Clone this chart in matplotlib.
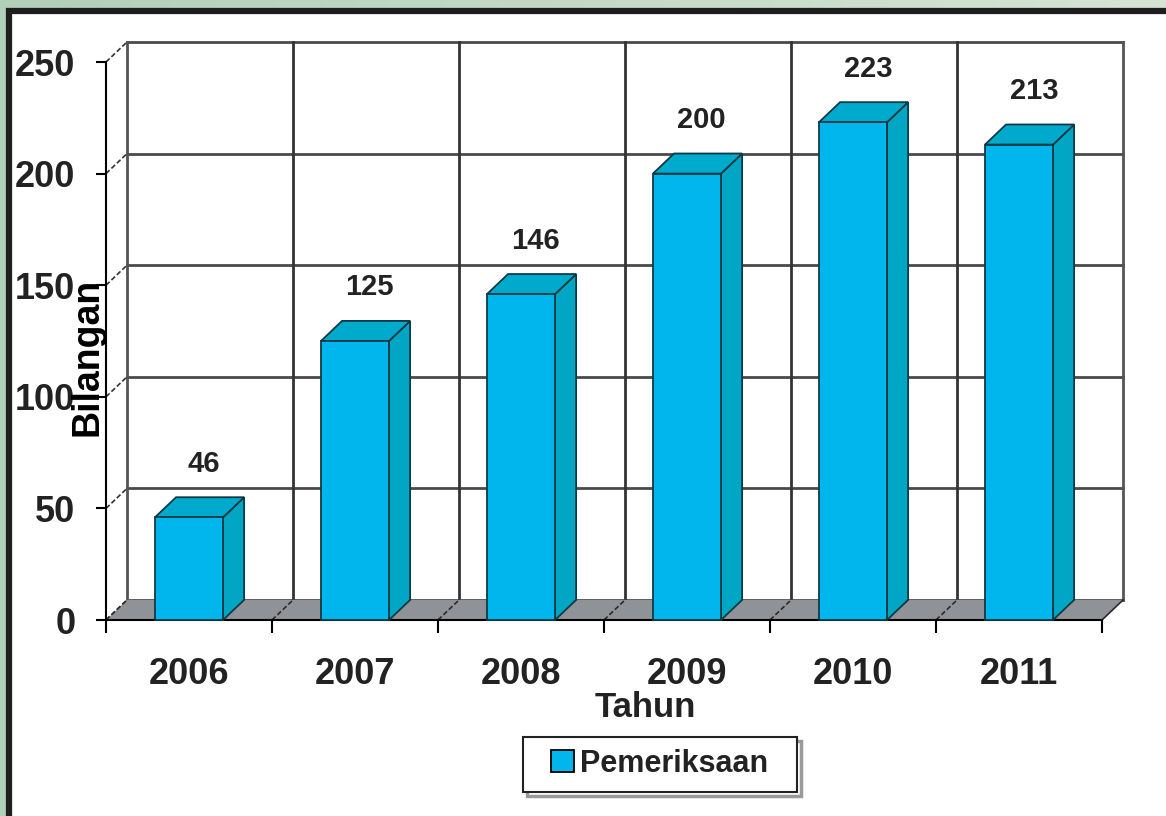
import matplotlib
matplotlib.use("Agg")
import matplotlib.pyplot as plt
import numpy as np
from matplotlib.patches import Polygon, Rectangle
from matplotlib.colors import LinearSegmentedColormap

plt.rcParams['font.family'] = ['Liberation Sans', 'DejaVu Sans']
plt.rcParams['font.weight'] = 'bold'

tahun = ['2006', '2007', '2008', '2009', '2010', '2011']
pemeriksaan = [46, 125, 146, 200, 223, 213]
y_ticks = [0, 50, 100, 150, 200, 250]

front_col = '#00b6ec'
side_col = '#00a6c4'
top_col = '#00aacd'
edge_col = '#0d3a44'
floor_col = '#8f9297'
grid_col = '#4a4a4a'

# depth of the pseudo 3d box (x in category units, y in data units)
dx = 0.127
dy = 9.0
bar_w = 0.41

fig = plt.figure(figsize=(11.66, 8.16), dpi=100)

# greenish background with a framed white panel
bg = fig.add_axes([0, 0, 1, 1], zorder=-10)
grad = np.linspace(0, 1, 256).reshape(1, -1)
cmap = LinearSegmentedColormap.from_list('bg', ['#b2cfb9', '#d6e4d4'])
bg.imshow(grad, aspect='auto', cmap=cmap, extent=[0, 1, 0, 1])
bg.set_axis_off()
fig.patches.append(Rectangle((9 / 1166, -0.05), 1.1, 1.05 - 10.5 / 816,
                             transform=fig.transFigure, facecolor='white',
                             edgecolor='#1e1e1e', linewidth=4.5, zorder=-5))

ax = fig.add_axes([106 / 1166, 196 / 816, 996 / 1166, 558 / 816])
ax.set_xlim(0, 6)
ax.set_ylim(0, 250)
ax.patch.set_visible(False)
for s in ['top', 'right']:
    ax.spines[s].set_visible(False)
ax.spines['left'].set_linewidth(1.5)
ax.spines['bottom'].set_linewidth(1.5)

n = len(tahun)
# back wall grid
for v in y_ticks:
    ax.plot([dx, n + dx], [v + dy, v + dy], color=grid_col, lw=2, clip_on=False, zorder=1)
    ax.plot([0, dx], [v, v + dy], color='#333333', lw=1.2, ls=(0, (3, 1.5)), clip_on=False, zorder=1)
for i in range(n + 1):
    ax.plot([i + dx, i + dx], [dy, 250 + dy], color='#333333' if 0 < i < n else '#555555',
            lw=2, clip_on=False, zorder=1)

# floor
ax.add_patch(Polygon([(0, 0), (n, 0), (n + dx, dy), (dx, dy)], closed=True,
                     facecolor=floor_col, edgecolor='none', clip_on=False, zorder=2))
for i in range(n + 1):
    ax.plot([i, i + dx], [0, dy], color='#2a2a2a', lw=1.2,
            ls='-' if i == n else (0, (3, 1.5)), clip_on=False, zorder=2)

# bars: front faces via ax.bar, then side and top faces
xc = np.arange(n) + 0.5
ax.bar(xc, pemeriksaan, width=bar_w, color=front_col, edgecolor=edge_col,
       linewidth=1.3, label='Pemeriksaan', zorder=4, clip_on=False)
for x, v in zip(xc, pemeriksaan):
    x0, x1 = x - bar_w / 2, x + bar_w / 2
    ax.add_patch(Polygon([(x1, 0), (x1 + dx, dy), (x1 + dx, v + dy), (x1, v)],
                         facecolor=side_col, edgecolor=edge_col, lw=1.3, zorder=3, clip_on=False))
    ax.add_patch(Polygon([(x0, v), (x1, v), (x1 + dx, v + dy), (x0 + dx, v + dy)],
                         facecolor=top_col, edgecolor=edge_col, lw=1.3, zorder=3, clip_on=False))
    ax.text(x + dx * 0.7, v + 24, str(v), ha='center', va='center',
            fontsize=21, fontweight='bold', color='#222222', zorder=6)

ax.set_yticks(y_ticks)
ax.set_yticklabels([str(v) for v in y_ticks])
ax.tick_params(axis='y', length=7, width=1.5, pad=15, labelsize=26, labelcolor='#222222')
for lab in ax.get_yticklabels():
    lab.set_verticalalignment('center_baseline')
ax.set_xticks(range(n + 1))
ax.set_xticklabels([])
ax.set_xticks(xc, minor=True)
ax.set_xticklabels(tahun, minor=True)
ax.tick_params(axis='x', which='major', length=9, width=1.5, direction='out')
ax.tick_params(axis='x', which='minor', length=0, pad=27, labelsize=26, labelcolor='#222222')

ax.set_ylabel('Bilangan', fontsize=27, fontweight='bold', color='black')
ax.yaxis.set_label_coords(0.0, 0.472)
ax.set_xlabel('Tahun', fontsize=25, fontweight='bold', color='#222222')
ax.xaxis.set_label_coords(0.541, -0.128)

# legend with a hand-drawn frame and offset shadow
leg = ax.legend(loc='center', bbox_to_anchor=(0.556, -0.258), fontsize=22,
                frameon=False, handlelength=0.75, handleheight=0.75,
                handletextpad=0.2, borderpad=0, borderaxespad=0)
for t in leg.get_texts():
    t.set_color('#222222')
leg.legend_handles[0].set_edgecolor('black')
ax.add_patch(Rectangle((0.4227, -0.3152), 0.2751, 0.0985, transform=ax.transAxes,
                       facecolor='none', edgecolor='#9a9a9a', lw=2.5, clip_on=False, zorder=7))
ax.add_patch(Rectangle((0.4187, -0.3082), 0.2751, 0.0985, transform=ax.transAxes,
                       facecolor='white', edgecolor='#222222', lw=1.5, clip_on=False, zorder=8))
leg.set_zorder(9)

fig.savefig('out.png', dpi=100)
